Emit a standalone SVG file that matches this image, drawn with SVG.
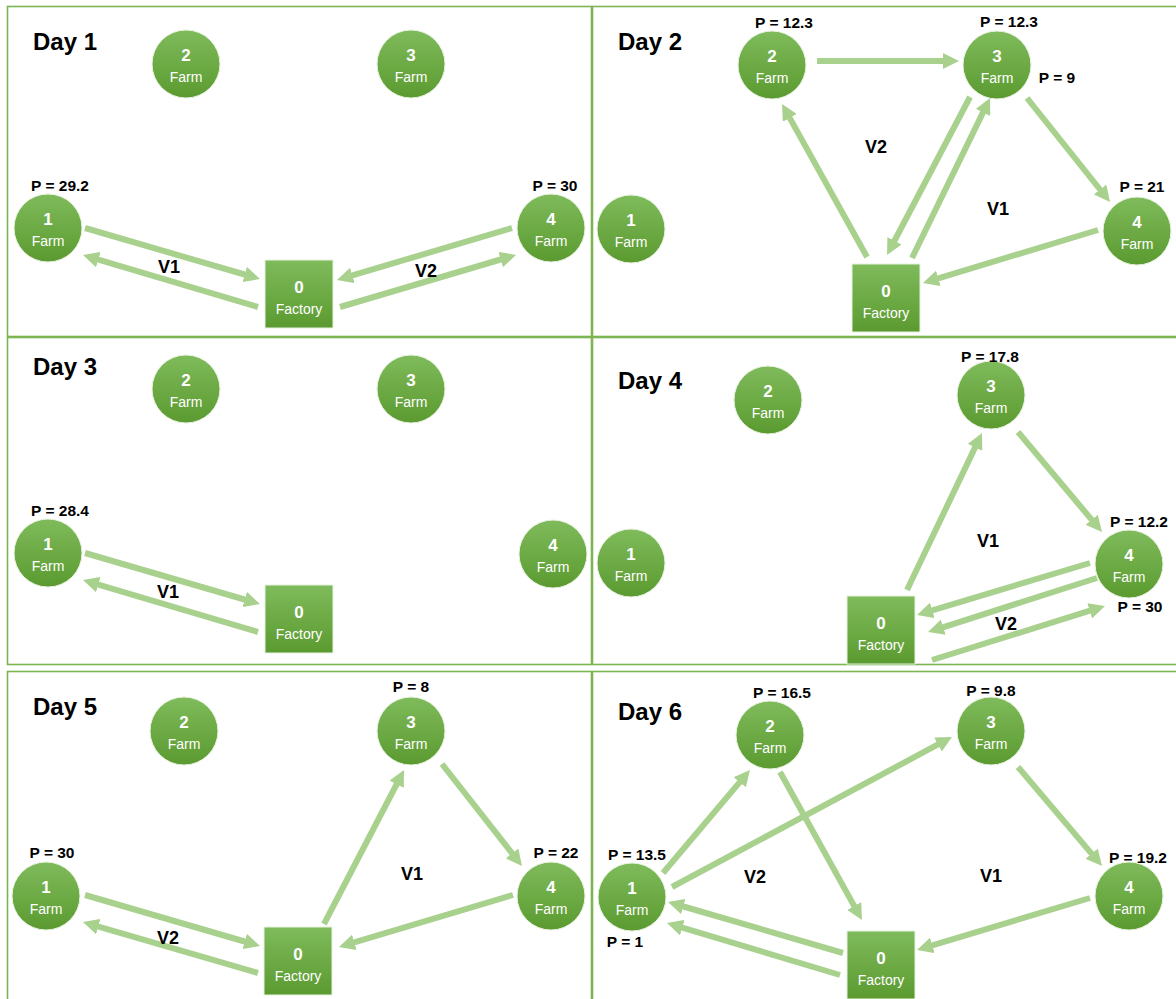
<svg xmlns="http://www.w3.org/2000/svg" width="1176" height="999" viewBox="0 0 1176 999">
<defs>
<linearGradient id="g" x1="0" y1="0" x2="0" y2="1">
<stop offset="0" stop-color="#7fbb5b"/>
<stop offset="1" stop-color="#5b9a30"/>
</linearGradient>
<marker id="ah" markerUnits="userSpaceOnUse" markerWidth="16" markerHeight="16" refX="7" refY="8" orient="auto">
<path d="M0,0 L16,8 L0,16 z" fill="#a9d18e"/>
</marker>
<style>
.panel{fill:#fff;stroke:#7cb552;stroke-width:1.6}
.farm{fill:url(#g);stroke:#e8f2e0;stroke-width:1}
.fac{fill:url(#g);stroke:#e8f2e0;stroke-width:1}
.num{font-family:"Liberation Sans",Arial,sans-serif;font-weight:bold;font-size:17px;fill:#fff;text-anchor:middle}
.lbl{font-family:"Liberation Sans",Arial,sans-serif;font-size:14px;fill:#fff;text-anchor:middle}
.day{font-family:"Liberation Sans",Arial,sans-serif;font-weight:bold;font-size:24px;fill:#000}
.p{font-family:"Liberation Sans",Arial,sans-serif;font-weight:bold;font-size:15.5px;fill:#000;text-anchor:middle}
.v{font-family:"Liberation Sans",Arial,sans-serif;font-weight:bold;font-size:18px;fill:#000;text-anchor:middle}
.c line{stroke:#a9d18e;stroke-width:6;marker-end:url(#ah)}
</style>
</defs>

<g id="panels">
<rect class="panel" x="7.5" y="6.5" width="584" height="330"/>
<rect class="panel" x="592.5" y="6.5" width="590" height="330"/>
<rect class="panel" x="7.5" y="337.5" width="584" height="327"/>
<rect class="panel" x="592.5" y="337.5" width="590" height="327"/>
<rect class="panel" x="7.5" y="671.5" width="584" height="340"/>
<rect class="panel" x="592.5" y="671.5" width="590" height="340"/>
</g>

<g id="connectors" class="c">
<!-- Day 1 -->
<line x1="85" y1="228" x2="251.4" y2="276.5"/>
<line x1="258" y1="307" x2="91.6" y2="257.6"/>
<line x1="512" y1="228" x2="345.6" y2="277.4"/>
<line x1="340" y1="307" x2="507.4" y2="257.5"/>
<!-- Day 2 -->
<line x1="817" y1="61" x2="950" y2="61"/>
<line x1="867" y1="257" x2="786.4" y2="111.9"/>
<line x1="970" y1="97" x2="891.2" y2="247"/>
<line x1="912" y1="258" x2="986.1" y2="106.1"/>
<line x1="1027" y1="98" x2="1104.4" y2="195"/>
<line x1="1098" y1="230" x2="931.6" y2="280.4"/>
<!-- Day 3 -->
<line x1="85" y1="553" x2="251.4" y2="601.5"/>
<line x1="258" y1="632" x2="91.6" y2="582.6"/>
<!-- Day 4 -->
<line x1="907" y1="590" x2="978.1" y2="441.1"/>
<line x1="1018" y1="432" x2="1096.2" y2="525.1"/>
<line x1="1090" y1="563" x2="925.6" y2="612.4"/>
<line x1="1097" y1="578" x2="936.6" y2="629.3"/>
<line x1="932" y1="660" x2="1096.4" y2="608.7"/>
<!-- Day 5 -->
<line x1="85" y1="895" x2="251.4" y2="943.5"/>
<line x1="258" y1="973" x2="91.6" y2="924.6"/>
<line x1="324" y1="924" x2="399.9" y2="778"/>
<line x1="442" y1="764" x2="516.4" y2="858.9"/>
<line x1="513" y1="895" x2="347.6" y2="944.4"/>
<!-- Day 6 -->
<line x1="663" y1="873" x2="744.2" y2="776.9"/>
<line x1="672" y1="887" x2="944.1" y2="741.2"/>
<line x1="780" y1="772" x2="857.6" y2="912.1"/>
<line x1="843" y1="953" x2="676.6" y2="904.5"/>
<line x1="840" y1="975" x2="675.6" y2="925.6"/>
<line x1="1018" y1="767" x2="1096.2" y2="859.1"/>
<line x1="1090" y1="898" x2="925.6" y2="947.4"/>
</g>

<!-- Day 1 -->
<g id="day1">
<text class="day" x="33" y="50">Day 1</text>
<g id="d1-n2"><circle class="farm" cx="186" cy="64" r="34"/><text class="num" x="186" y="61">2</text><text class="lbl" x="186" y="82">Farm</text></g>
<g id="d1-n3"><circle class="farm" cx="411" cy="64" r="34"/><text class="num" x="411" y="61">3</text><text class="lbl" x="411" y="82">Farm</text></g>
<g id="d1-n1"><circle class="farm" cx="48" cy="228" r="34"/><text class="num" x="48" y="225">1</text><text class="lbl" x="48" y="246">Farm</text><text class="p" x="60" y="191">P = 29.2</text></g>
<g id="d1-n4"><circle class="farm" cx="551" cy="228" r="34"/><text class="num" x="551" y="225">4</text><text class="lbl" x="551" y="246">Farm</text><text class="p" x="555" y="191">P = 30</text></g>
<g id="d1-n0"><rect class="fac" x="265" y="260" width="68" height="68"/><text class="num" x="299" y="293">0</text><text class="lbl" x="299" y="314">Factory</text></g>
<text class="v" x="169" y="273">V1</text>
<text class="v" x="426" y="277">V2</text>
</g>

<!-- Day 2 -->
<g id="day2">
<text class="day" x="618" y="50">Day 2</text>
<g id="d2-n2"><circle class="farm" cx="772" cy="65" r="34"/><text class="num" x="772" y="62">2</text><text class="lbl" x="772" y="83">Farm</text><text class="p" x="784" y="28">P = 12.3</text></g>
<g id="d2-n3"><circle class="farm" cx="997" cy="65" r="34"/><text class="num" x="997" y="62">3</text><text class="lbl" x="997" y="83">Farm</text><text class="p" x="1009" y="27">P = 12.3</text><text class="p" x="1057" y="83">P = 9</text></g>
<g id="d2-n1"><circle class="farm" cx="631" cy="229" r="34"/><text class="num" x="631" y="226">1</text><text class="lbl" x="631" y="247">Farm</text></g>
<g id="d2-n4"><circle class="farm" cx="1137" cy="231" r="34"/><text class="num" x="1137" y="228">4</text><text class="lbl" x="1137" y="249">Farm</text><text class="p" x="1142" y="192">P = 21</text></g>
<g id="d2-n0"><rect class="fac" x="852" y="264" width="68" height="68"/><text class="num" x="886" y="297">0</text><text class="lbl" x="886" y="318">Factory</text></g>
<text class="v" x="876" y="153">V2</text>
<text class="v" x="998" y="215">V1</text>
</g>

<!-- Day 3 -->
<g id="day3">
<text class="day" x="33" y="375">Day 3</text>
<g id="d3-n2"><circle class="farm" cx="186" cy="389" r="34"/><text class="num" x="186" y="386">2</text><text class="lbl" x="186" y="407">Farm</text></g>
<g id="d3-n3"><circle class="farm" cx="411" cy="389" r="34"/><text class="num" x="411" y="386">3</text><text class="lbl" x="411" y="407">Farm</text></g>
<g id="d3-n1"><circle class="farm" cx="48" cy="553" r="34"/><text class="num" x="48" y="550">1</text><text class="lbl" x="48" y="571">Farm</text><text class="p" x="60" y="516">P = 28.4</text></g>
<g id="d3-n4"><circle class="farm" cx="553" cy="554" r="34"/><text class="num" x="553" y="551">4</text><text class="lbl" x="553" y="572">Farm</text></g>
<g id="d3-n0"><rect class="fac" x="265" y="585" width="68" height="68"/><text class="num" x="299" y="618">0</text><text class="lbl" x="299" y="639">Factory</text></g>
<text class="v" x="168" y="598">V1</text>
</g>

<!-- Day 4 -->
<g id="day4">
<text class="day" x="618" y="389">Day 4</text>
<g id="d4-n2"><circle class="farm" cx="768" cy="400" r="34"/><text class="num" x="768" y="397">2</text><text class="lbl" x="768" y="418">Farm</text></g>
<g id="d4-n3"><circle class="farm" cx="991" cy="395" r="34"/><text class="num" x="991" y="392">3</text><text class="lbl" x="991" y="413">Farm</text><text class="p" x="990" y="362">P = 17.8</text></g>
<g id="d4-n1"><circle class="farm" cx="631" cy="563" r="34"/><text class="num" x="631" y="560">1</text><text class="lbl" x="631" y="581">Farm</text></g>
<g id="d4-n4"><circle class="farm" cx="1129" cy="564" r="34"/><text class="num" x="1129" y="561">4</text><text class="lbl" x="1129" y="582">Farm</text><text class="p" x="1139" y="527">P = 12.2</text><text class="p" x="1140" y="612">P = 30</text></g>
<g id="d4-n0"><rect class="fac" x="847" y="596" width="68" height="68"/><text class="num" x="881" y="629">0</text><text class="lbl" x="881" y="650">Factory</text></g>
<text class="v" x="988" y="547">V1</text>
<text class="v" x="1006" y="630">V2</text>
</g>

<!-- Day 5 -->
<g id="day5">
<text class="day" x="33" y="715">Day 5</text>
<g id="d5-n2"><circle class="farm" cx="184" cy="731" r="34"/><text class="num" x="184" y="728">2</text><text class="lbl" x="184" y="749">Farm</text></g>
<g id="d5-n3"><circle class="farm" cx="411" cy="731" r="34"/><text class="num" x="411" y="728">3</text><text class="lbl" x="411" y="749">Farm</text><text class="p" x="411" y="692">P = 8</text></g>
<g id="d5-n1"><circle class="farm" cx="46" cy="896" r="34"/><text class="num" x="46" y="893">1</text><text class="lbl" x="46" y="914">Farm</text><text class="p" x="52" y="858">P = 30</text></g>
<g id="d5-n4"><circle class="farm" cx="551" cy="896" r="34"/><text class="num" x="551" y="893">4</text><text class="lbl" x="551" y="914">Farm</text><text class="p" x="556" y="858">P = 22</text></g>
<g id="d5-n0"><rect class="fac" x="264" y="927" width="68" height="68"/><text class="num" x="298" y="960">0</text><text class="lbl" x="298" y="981">Factory</text></g>
<text class="v" x="412" y="880">V1</text>
<text class="v" x="168" y="944">V2</text>
</g>

<!-- Day 6 -->
<g id="day6">
<text class="day" x="618" y="720">Day 6</text>
<g id="d6-n2"><circle class="farm" cx="770" cy="735" r="34"/><text class="num" x="770" y="732">2</text><text class="lbl" x="770" y="753">Farm</text><text class="p" x="782" y="698">P = 16.5</text></g>
<g id="d6-n3"><circle class="farm" cx="991" cy="731" r="34"/><text class="num" x="991" y="728">3</text><text class="lbl" x="991" y="749">Farm</text><text class="p" x="991" y="696">P = 9.8</text></g>
<g id="d6-n1"><circle class="farm" cx="632" cy="897" r="34"/><text class="num" x="632" y="894">1</text><text class="lbl" x="632" y="915">Farm</text><text class="p" x="637" y="860">P = 13.5</text><text class="p" x="625" y="947">P = 1</text></g>
<g id="d6-n4"><circle class="farm" cx="1129" cy="896" r="34"/><text class="num" x="1129" y="893">4</text><text class="lbl" x="1129" y="914">Farm</text><text class="p" x="1138" y="863">P = 19.2</text></g>
<g id="d6-n0"><rect class="fac" x="847" y="931" width="68" height="68"/><text class="num" x="881" y="964">0</text><text class="lbl" x="881" y="985">Factory</text></g>
<text class="v" x="755" y="883">V2</text>
<text class="v" x="991" y="882">V1</text>
</g>
</svg>
